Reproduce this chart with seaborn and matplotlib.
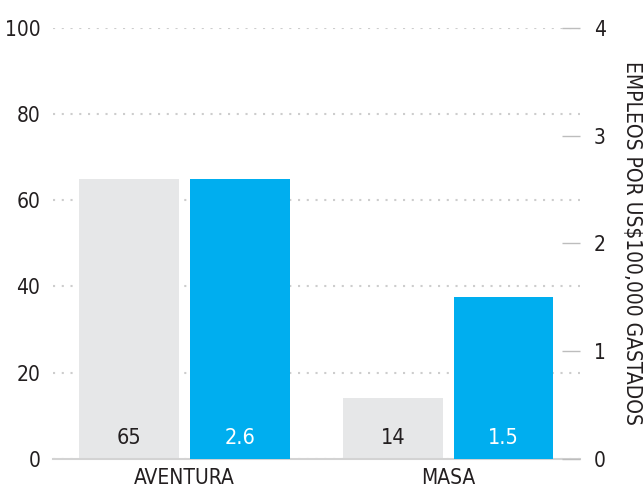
import matplotlib
matplotlib.use("Agg")
import matplotlib.pyplot as plt
import matplotlib.transforms as mtransforms
from matplotlib import font_manager
import seaborn as sns
import pandas as pd

# Data
categories = ["AVENTURA", "MASA"]
series_names = ["Gasto", "Empleos"]
left_values = [65, 14]          # left axis scale (0-100)
right_values = [2.6, 1.5]       # jobs per US$100,000 spent (0-4)
value_labels_left = ["65", "14"]
value_labels_right = ["2.6", "1.5"]
left_ticks = [0, 20, 40, 60, 80, 100]
right_ticks = [0, 1, 2, 3, 4]
right_axis_title = "EMPLEOS POR US$100,000 GASTADOS"

GRAY = "#E6E7E8"
BLUE = "#00AEEF"
TEXT = "#231F20"
AXIS_GRAY = "#D3D3D3"

# Prefer a narrow/condensed face when one is installed
narrow = None
for f in font_manager.fontManager.ttflist:
    if f.stretch in ("condensed", "semi-condensed", "extra-condensed") or \
            "Narrow" in f.name or "Condensed" in f.name:
        if f.style == "normal" and f.weight in (400, "normal", "regular"):
            narrow = f
            break

sns.set_theme(style="white")
if narrow is not None:
    plt.rcParams["font.family"] = [narrow.name, "DejaVu Sans"]
    plt.rcParams["font.stretch"] = narrow.stretch
    fs_tick, fs_cat, fs_val, fs_title = 15, 15, 15.5, 15
else:
    plt.rcParams["font.family"] = ["Liberation Sans", "DejaVu Sans"]
    fs_tick, fs_cat, fs_val, fs_title = 14, 13, 13, 13.5
plt.rcParams["text.color"] = TEXT

fig = plt.figure(figsize=(6.43, 4.88), dpi=100)
ax = fig.add_axes([52.7 / 643, 29.3 / 488, 527.3 / 643, 430.7 / 488])
ax2 = ax.twinx()

left_df = pd.DataFrame({"cat": categories, "serie": series_names[0], "val": left_values})
right_df = pd.DataFrame({"cat": categories, "serie": series_names[1], "val": right_values})
palette = {series_names[0]: GRAY, series_names[1]: BLUE}

sns.barplot(data=left_df, x="cat", y="val", hue="serie", hue_order=series_names,
            order=categories, palette=palette, width=0.84, gap=0.1, dodge=True,
            legend=False, ax=ax, errorbar=None, linewidth=0, saturation=1)
sns.barplot(data=right_df, x="cat", y="val", hue="serie", hue_order=series_names,
            order=categories, palette=palette, width=0.84, gap=0.1, dodge=True,
            legend=False, ax=ax2, errorbar=None, linewidth=0, saturation=1)

ax.set_xlim(-0.5, 1.5)
ax.set_ylim(0, 100)
ax2.set_ylim(0, 4)

# Left axis: labels only, dotted grid
ax.set_yticks(left_ticks)
ax.set_yticklabels([str(t) for t in left_ticks])
ax.tick_params(axis="y", length=0, pad=9, labelsize=fs_tick, labelcolor=TEXT)
ax.set_axisbelow(True)
ax.yaxis.grid(True, color="#CDCDCD", linewidth=1.5, linestyle=(0, (1, 3.2)))
ax.xaxis.grid(False)
ax.set_ylabel("")
ax.set_xlabel("")

# Bottom axis: light spine with upward ticks at category boundaries
for s in ["top", "left", "right"]:
    ax.spines[s].set_visible(False)
ax.spines["bottom"].set_color(AXIS_GRAY)
ax.spines["bottom"].set_linewidth(1.5)
ax.set_xticks([0, 1])
ax.set_xticklabels(categories)
ax.set_xticks([-0.5, 0.5, 1.5], minor=True)
ax.tick_params(axis="x", which="major", length=0, pad=7, labelsize=fs_cat, labelcolor=TEXT)
ax.tick_params(axis="x", which="minor", direction="in", length=6, width=1.5,
               color=AXIS_GRAY)

# Right axis: short inward tick dashes, no spine
for s in ["top", "left", "right", "bottom"]:
    ax2.spines[s].set_visible(False)
ax2.set_yticks(right_ticks)
ax2.set_yticklabels([str(t) for t in right_ticks])
ax2.tick_params(axis="y", direction="in", length=13, width=1, color="#BDBDBD",
                pad=10, labelsize=fs_tick, labelcolor=TEXT)
ax2.grid(False)
ax2.set_ylabel(right_axis_title, rotation=270, fontsize=fs_title, color=TEXT,
               va="center", ha="center")
ax2.yaxis.set_label_coords(1.099, 0.50)

# Value labels near the bottom of each bar
blend = mtransforms.blended_transform_factory(ax.transData, ax.transAxes)
left_bars = [p for p in ax.patches if p.get_height() > 0]
right_bars = [p for p in ax2.patches if p.get_height() > 0]
for bar, lab in zip(left_bars, value_labels_left):
    ax.text(bar.get_x() + bar.get_width() / 2, 0.048, lab, transform=blend,
            ha="center", va="center", fontsize=fs_val, color=TEXT)
blend2 = mtransforms.blended_transform_factory(ax2.transData, ax2.transAxes)
for bar, lab in zip(right_bars, value_labels_right):
    ax2.text(bar.get_x() + bar.get_width() / 2, 0.048, lab, transform=blend2,
             ha="center", va="center", fontsize=fs_val, color="white")

fig.savefig("out.png", dpi=100)
